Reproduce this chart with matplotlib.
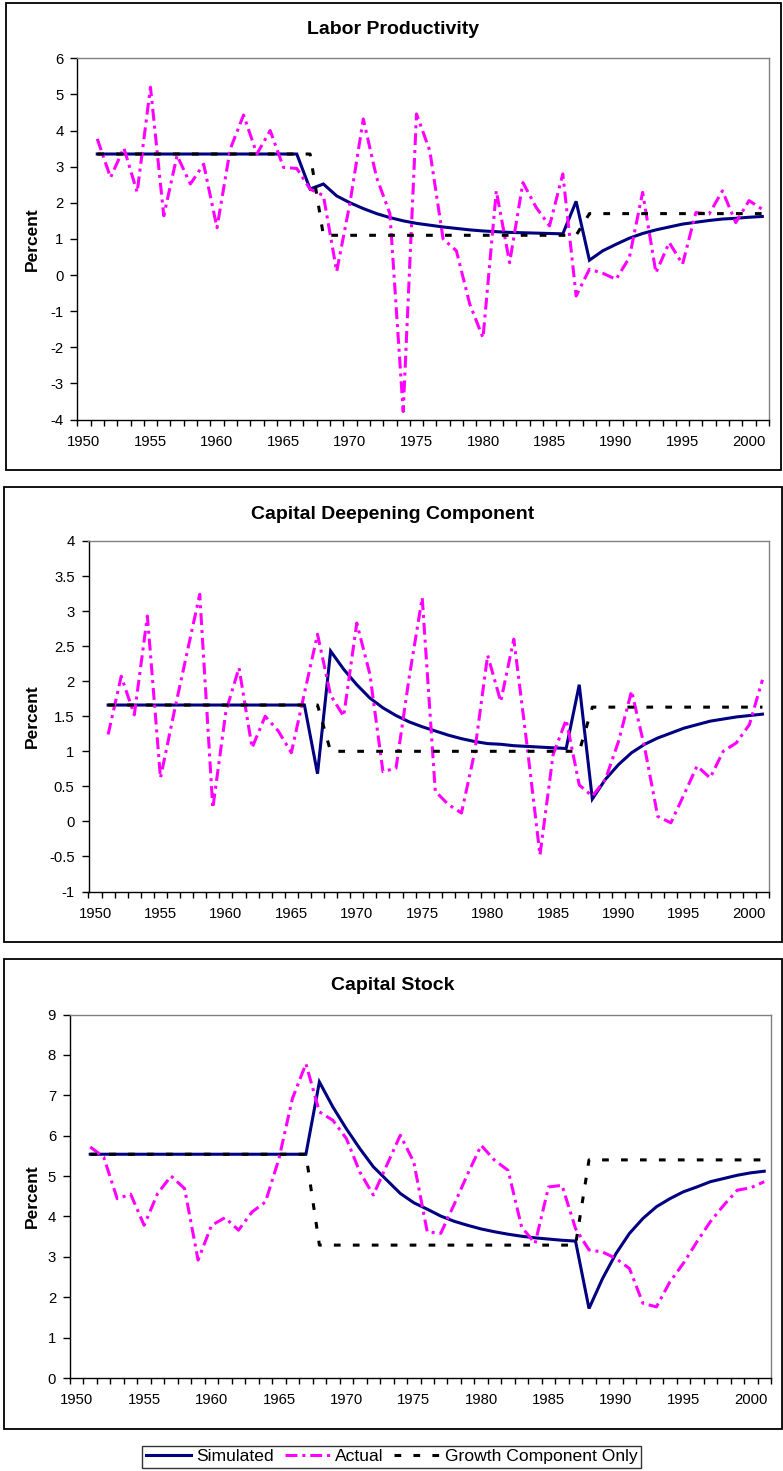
import numpy as np
import matplotlib
matplotlib.use("Agg")
import matplotlib.pyplot as plt
from matplotlib.patches import Rectangle
from matplotlib.lines import Line2D
from matplotlib.ticker import FuncFormatter

plt.rcParams['font.family'] = ['Liberation Sans', 'DejaVu Sans']

W, H = 783, 1471

years = list(range(1951, 2002))
label_years = [1950, 1955, 1960, 1965, 1970, 1975, 1980, 1985, 1990, 1995, 2000]

# Labor Productivity
lp_sim = [3.35, 3.35, 3.35, 3.35, 3.35, 3.35, 3.35, 3.35, 3.35, 3.35,
          3.35, 3.35, 3.35, 3.35, 3.35, 3.35, 2.38, 2.52, 2.19, 2.00,
          1.84, 1.70, 1.59, 1.50, 1.43, 1.38, 1.33, 1.29, 1.25, 1.22,
          1.20, 1.18, 1.17, 1.16, 1.15, 1.14, 2.04, 0.41, 0.67, 0.85,
          1.02, 1.15, 1.25, 1.33, 1.41, 1.46, 1.51, 1.55, 1.57, 1.60,
          1.62]
lp_act = [3.77, 2.70, 3.52, 2.29, 5.20, 1.64, 3.31, 2.52, 3.07, 1.31,
          3.49, 4.43, 3.35, 4.00, 2.98, 2.95, 2.38, 2.20, 0.10, 2.00,
          4.32, 2.70, 1.70, -3.78, 4.46, 3.44, 1.00, 0.67, -0.80, -1.74,
          2.33, 0.34, 2.56, 1.87, 1.36, 2.80, -0.58, 0.16, 0.05, -0.12,
          0.48, 2.29, 0.06, 0.90, 0.30, 1.73, 1.69, 2.33, 1.45, 2.06,
          1.82]
lp_grow = [3.35, 3.35, 3.35, 3.35, 3.35, 3.35, 3.35, 3.35, 3.35, 3.35,
           3.35, 3.35, 3.35, 3.35, 3.35, 3.35, 3.35, 1.10, 1.10, 1.10,
           1.10, 1.10, 1.10, 1.10, 1.10, 1.10, 1.10, 1.10, 1.10, 1.10,
           1.10, 1.10, 1.10, 1.10, 1.10, 1.10, 1.10, 1.70, 1.70, 1.70,
           1.70, 1.70, 1.70, 1.70, 1.70, 1.70, 1.70, 1.70, 1.70, 1.70,
           1.70]

# Capital Deepening Component
cd_sim = [1.66, 1.66, 1.66, 1.66, 1.66, 1.66, 1.66, 1.66, 1.66, 1.66,
          1.66, 1.66, 1.66, 1.66, 1.66, 1.66, 0.68, 2.43, 2.17, 1.95,
          1.76, 1.62, 1.51, 1.42, 1.35, 1.29, 1.23, 1.18, 1.14, 1.11,
          1.10, 1.08, 1.07, 1.06, 1.05, 1.04, 1.95, 0.32, 0.60, 0.81,
          0.98, 1.10, 1.19, 1.26, 1.33, 1.38, 1.43, 1.46, 1.49, 1.51,
          1.53]
cd_act = [1.24, 2.07, 1.52, 2.93, 0.62, 1.52, 2.38, 3.24, 0.19, 1.57,
          2.19, 1.05, 1.50, 1.29, 0.98, 1.83, 2.67, 1.80, 1.50, 2.83,
          2.10, 0.71, 0.76, 2.05, 3.19, 0.43, 0.24, 0.12, 0.98, 2.37,
          1.71, 2.60, 1.10, -0.48, 0.95, 1.45, 0.52, 0.36, 0.60, 1.14,
          1.86, 1.05, 0.07, -0.02, 0.38, 0.79, 0.62, 1.00, 1.12, 1.38,
          2.02]
cd_grow = [1.66, 1.66, 1.66, 1.66, 1.66, 1.66, 1.66, 1.66, 1.66, 1.66,
           1.66, 1.66, 1.66, 1.66, 1.66, 1.66, 1.66, 1.00, 1.00, 1.00,
           1.00, 1.00, 1.00, 1.00, 1.00, 1.00, 1.00, 1.00, 1.00, 1.00,
           1.00, 1.00, 1.00, 1.00, 1.00, 1.00, 1.00, 1.63, 1.63, 1.63,
           1.63, 1.63, 1.63, 1.63, 1.63, 1.63, 1.63, 1.63, 1.63, 1.63,
           1.63]

# Capital Stock
cs_sim = [5.54, 5.54, 5.54, 5.54, 5.54, 5.54, 5.54, 5.54, 5.54, 5.54,
          5.54, 5.54, 5.54, 5.54, 5.54, 5.54, 5.54, 7.33, 6.71, 6.17,
          5.68, 5.23, 4.90, 4.57, 4.34, 4.18, 4.01, 3.88, 3.78, 3.69,
          3.62, 3.56, 3.51, 3.47, 3.44, 3.41, 3.39, 1.72, 2.46, 3.08,
          3.58, 3.95, 4.24, 4.44, 4.61, 4.73, 4.86, 4.94, 5.02, 5.08,
          5.12]
cs_act = [5.72, 5.47, 4.44, 4.55, 3.78, 4.57, 5.00, 4.69, 2.92, 3.78,
          3.97, 3.66, 4.11, 4.36, 5.43, 6.92, 7.78, 6.59, 6.38, 5.93,
          5.10, 4.53, 5.27, 6.01, 5.35, 3.62, 3.58, 4.30, 5.05, 5.76,
          5.39, 5.14, 3.74, 3.33, 4.73, 4.77, 3.70, 3.17, 3.12, 2.96,
          2.71, 1.85, 1.76, 2.38, 2.84, 3.37, 3.87, 4.28, 4.65, 4.71,
          4.86]
cs_grow = [5.54, 5.54, 5.54, 5.54, 5.54, 5.54, 5.54, 5.54, 5.54, 5.54,
           5.54, 5.54, 5.54, 5.54, 5.54, 5.54, 5.54, 3.29, 3.29, 3.29,
           3.29, 3.29, 3.29, 3.29, 3.29, 3.29, 3.29, 3.29, 3.29, 3.29,
           3.29, 3.29, 3.29, 3.29, 3.29, 3.29, 3.29, 5.40, 5.40, 5.40,
           5.40, 5.40, 5.40, 5.40, 5.40, 5.40, 5.40, 5.40, 5.40, 5.40,
           5.40]

SIM_COLOR = "#000080"
ACT_COLOR = "#FF00FF"
LW = 2.2


def px_rect(l, t, r, b):
    return [l / W, 1 - b / H, (r - l) / W, (b - t) / H]


def draw_panel(fig, box, plot, title, title_y, sim, act, grow, ylim, ystep):
    # chart area border
    l, t, r, b = box
    fig.add_artist(Rectangle((l / W, 1 - b / H), (r - l) / W, (b - t) / H,
                             transform=fig.transFigure, fill=False,
                             edgecolor="black", lw=1.3))
    ax = fig.add_axes(px_rect(*plot))
    ax.plot(years, sim, color=SIM_COLOR, lw=LW, solid_joinstyle="miter")
    ax.plot(years, act, color=ACT_COLOR, lw=LW, dashes=(3.9, 1.6, 1.0, 1.6),
            dash_capstyle="butt")
    ax.plot(years, grow, color="black", lw=LW, dashes=(2.2, 4.0),
            dash_capstyle="butt")

    ax.set_xlim(1949.5, 2001.5)
    ax.set_ylim(*ylim)
    ax.set_yticks(np.arange(ylim[0], ylim[1] + ystep / 2, ystep))
    ax.yaxis.set_major_formatter(FuncFormatter(lambda v, p: "%g" % round(v, 2)))
    ax.set_xticks(label_years)
    ax.set_xticks(np.arange(1949.5, 2002, 1), minor=True)
    ax.tick_params(axis="x", which="major", length=0, pad=11, labelsize=10.7)
    ax.tick_params(axis="x", which="minor", length=4, width=1, direction="out")
    ax.tick_params(axis="y", which="major", length=5, width=1, direction="out",
                   pad=5, labelsize=10.7)
    for s in ("top", "right"):
        ax.spines[s].set_color("#808080")
        ax.spines[s].set_linewidth(1)
    for s in ("left", "bottom"):
        ax.spines[s].set_color("black")
        ax.spines[s].set_linewidth(1)

    fig.text(393 / W, 1 - title_y / H, title, ha="center", va="center",
             fontsize=14, fontweight="bold")
    fig.text(32 / W, 1 - (plot[1] + plot[3]) / 2 / H, "Percent", rotation=90,
             ha="center", va="center", fontsize=12.5, fontweight="bold")
    return ax


fig = plt.figure(figsize=(W / 100, H / 100), dpi=100)

draw_panel(fig, (6, 3, 781, 470), (77.3, 58.3, 769, 419.5),
           "Labor Productivity", 29, lp_sim, lp_act, lp_grow, (-4, 6), 1)
draw_panel(fig, (4, 487, 782, 942), (88.5, 541, 769, 891.5),
           "Capital Deepening Component", 514, cd_sim, cd_act, cd_grow, (-1, 4), 0.5)
draw_panel(fig, (4, 959, 782, 1429), (70, 1014.5, 771, 1378),
           "Capital Stock", 986, cs_sim, cs_act, cs_grow, (0, 9), 1)

handles = [
    Line2D([], [], color=SIM_COLOR, lw=LW),
    Line2D([], [], color=ACT_COLOR, lw=LW, dashes=(3.9, 1.6, 1.0, 1.6)),
    Line2D([], [], color="black", lw=LW, dashes=(2.2, 4.0)),
]
leg = fig.legend(handles, ["Simulated", "Actual", "Growth Component Only"],
                 loc="center", bbox_to_anchor=(391.7 / W, 1 - 1456.8 / H),
                 ncol=3, frameon=True, fancybox=False, edgecolor="black",
                 fontsize=12.6, handlelength=2.6, handletextpad=0.3,
                 columnspacing=0.6, borderpad=0.2, borderaxespad=0)
leg.get_frame().set_linewidth(1.0)

fig.savefig("out.png", dpi=100)
